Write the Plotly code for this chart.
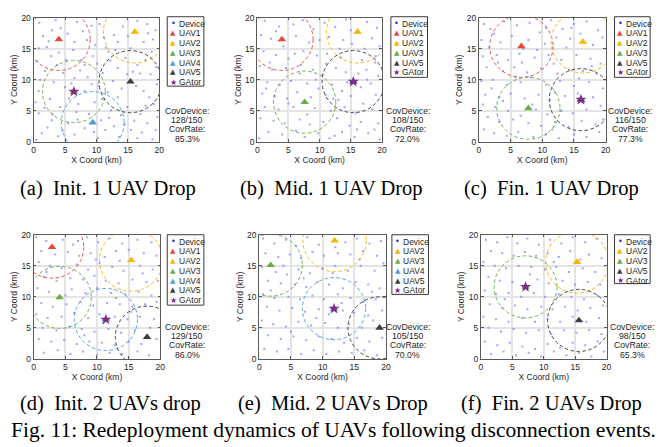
import plotly.graph_objects as go

W, H = 669, 447

# ------------------------------------------------------------------ data
UAV_NAMES = ["UAV1", "UAV2", "UAV3", "UAV4", "UAV5"]
UAV_COLORS = ["#e8453c", "#f7b500", "#6aad45", "#4d9de0", "#3c3c3c"]
UAV_CIRCLE_COLORS = ["rgba(232,69,60,0.9)", "rgba(247,181,0,0.95)", "rgba(106,173,69,0.95)",
                     "rgba(77,157,224,0.95)", "rgba(50,50,50,0.9)"]
GATOR_COLOR = "#7b2d8e"
DEVICE_COLOR = "rgba(90,90,255,0.55)"
COVERAGE_RADIUS = 5.0
TOTAL_DEVICES = 150

SUBCAPTIONS = ["(a)  Init. 1 UAV Drop", "(b)  Mid. 1 UAV Drop", "(c)  Fin. 1 UAV Drop",
               "(d)  Init. 2 UAVs drop", "(e)  Mid. 2 UAVs Drop", "(f)  Fin. 2 UAVs Drop"]
FIG_CAPTION = "Fig. 11: Redeployment dynamics of UAVs following disconnection events."

COV_DEVICE = [128, 108, 116, 129, 105, 98]

# UAV positions per panel (None = UAV dropped)
uav_a_x = [4.0, 16.1, 6.4, 9.4, 15.4];   uav_a_y = [16.5, 17.7, 8.1, 3.1, 9.7]
uav_b_x = [3.95, 16.1, 7.6, None, 15.4]; uav_b_y = [16.5, 17.7, 6.4, None, 9.7]
uav_c_x = [6.7, 16.4, 7.8, None, 16.1];  uav_c_y = [15.4, 16.1, 5.4, None, 6.8]
uav_d_x = [2.9, 15.4, 4.1, 11.4, 17.9];  uav_d_y = [18.0, 15.9, 9.9, 6.35, 3.5]
uav_e_x = [None, 11.9, 1.8, 11.8, 19.0]; uav_e_y = [None, 19.05, 15.1, 8.1, 5.0]
uav_f_x = [None, 15.3, 7.1, None, 15.6]; uav_f_y = [None, 15.6, 11.6, None, 6.2]

gator_x = [6.4, 15.4, 16.1, 11.4, 11.8, 7.1]
gator_y = [8.1, 9.7, 6.8, 6.35, 8.1, 11.6]

dev_a = [(0.9,19.2),(2.9,18.0),(4.3,18.3),(5.4,17.4),(6.9,19.3),(9.2,18.7),(8.5,16.4),(2.4,16.2),(0.8,15.1),(2.1,15.3),
         (6.5,16.1),(6.3,14.8),(12.8,17.2),(13.4,16.1),(11.9,14.5),(16.5,19.5),(18.1,19.0),(19.4,18.0),(17.5,16.1),(15.4,15.1),
         (18.8,14.5),(9.4,13.8),(8.1,12.4),(3.7,12.4),(1.8,11.4),(4.7,11.1),(6.5,10.3),(9.2,9.3),(11.0,11.1),(13.4,11.9),
         (14.9,10.9),(16.5,12.4),(18.6,10.9),(19.6,9.3),(17.5,8.2),(13.4,7.2),(11.8,8.0),(8.1,8.2),(5.0,8.8),(0.8,8.2),
         (2.6,6.9),(4.2,5.6),(7.1,6.1),(9.7,6.4),(12.3,5.1),(14.9,5.6),(17.0,4.5),(19.1,6.1),(0.8,4.6),(2.9,3.5),
         (5.5,3.0),(8.1,2.2),(10.7,3.5),(12.8,2.5),(15.5,1.9),(18.1,3.0),(19.4,1.9),(1.3,1.4),(3.9,0.9),(6.5,1.2),
         (10.2,0.6),(13.6,0.8),(16.5,0.6),(1.5,17.0),(3.5,19.6),(7.8,17.8),(10.5,19.0),(11.2,16.8),(14.2,18.6),(15.0,17.0),
         (19.0,16.5),(0.5,13.0),(2.8,13.8),(5.2,13.2),(7.4,11.5),(10.1,12.6),(12.2,13.1),(14.6,13.5),(17.8,13.2),(19.5,12.0),
         (1.0,10.0),(3.2,9.6),(6.0,9.4),(8.6,10.4),(10.4,9.0),(12.6,9.8),(14.0,8.6),(16.3,9.0),(18.4,7.2),(0.3,6.4),
         (1.7,5.5),(5.6,7.0),(6.8,4.8),(8.8,4.5),(10.9,6.9),(12.0,3.9),(13.9,4.3),(16.0,3.4),(17.8,5.8),(19.7,4.0),
         (2.2,2.3),(4.6,1.8),(7.0,3.6),(9.6,1.6),(11.4,1.9),(14.5,2.8),(17.2,1.5),(18.9,0.4),(0.4,0.3),(3.0,4.4),
         (11.5,15.2),(9.8,15.6),(4.0,14.4),(15.8,11.3),(13.0,14.8),(18.2,17.5),(16.9,11.0),(7.6,13.2)]

dev_b = [(1.2,19.5),(3.5,18.6),(5.8,18.9),(7.3,19.6),(9.0,18.2),(10.8,19.2),(12.5,18.5),(14.2,19.7),(17.6,19.3),(19.2,18.4),
         (0.6,17.2),(2.2,16.6),(6.2,17.0),(8.3,16.0),(11.5,16.9),(13.8,16.4),(15.2,15.8),(18.4,16.7),(19.6,15.4),(1.0,14.6),
         (3.0,14.0),(5.0,13.4),(7.4,14.6),(9.6,13.9),(11.2,14.2),(13.4,13.6),(16.8,13.2),(18.9,12.8),(0.4,12.2),(2.4,11.6),
         (4.6,11.9),(6.8,11.0),(8.9,11.6),(10.4,10.8),(12.6,11.9),(14.2,11.2),(17.5,11.6),(19.4,10.6),(1.6,9.6),(3.6,9.2),
         (5.4,9.8),(8.0,9.4),(9.8,8.6),(12.0,9.2),(13.6,8.2),(16.6,8.8),(18.2,9.4),(0.8,7.8),(2.8,7.4),(4.8,7.0),
         (6.4,8.0),(8.6,7.2),(11.0,7.6),(13.0,6.8),(15.0,7.4),(17.0,6.2),(19.0,7.6),(1.2,5.6),(3.4,5.2),(5.8,5.6),
         (9.2,5.4),(11.8,5.0),(14.0,5.6),(15.8,4.6),(18.4,5.2),(0.5,3.8),(2.6,3.4),(4.4,3.0),(6.8,3.6),(8.4,2.8),
         (10.6,3.2),(12.8,3.8),(14.8,2.6),(16.6,3.2),(19.4,3.0),(1.8,1.6),(4.0,1.2),(6.2,1.8),(7.6,0.8),(9.8,1.4),
         (11.6,0.6),(13.6,1.6),(15.6,0.8),(17.8,1.4),(19.6,0.4),(0.3,0.6),(16.2,11.0),(4.2,15.4),(10.0,16.4),(15.0,18.0),
         (17.2,15.0),(12.2,7.0),(7.0,12.4),(2.0,12.8),(14.4,9.6),(18.8,2.0),(5.0,6.2),(3.0,17.8),(8.0,4.4),(11.0,12.6),
         (16.0,2.0),(13.2,15.0),(6.0,14.2),(19.0,13.8),(9.4,10.0),(1.4,8.6),(17.6,10.0),(12.4,1.0)]

dev_c = [(0.8,19.0),(2.4,17.4),(4.0,19.4),(6.0,18.8),(8.0,19.2),(9.6,17.6),(11.4,19.6),(13.2,18.2),(15.0,19.0),(17.0,19.4),
         (18.8,18.0),(0.4,16.4),(1.6,15.2),(3.4,16.0),(5.2,17.0),(7.8,16.4),(10.4,15.8),(12.2,16.8),(14.4,16.6),(18.0,15.6),
         (19.5,16.8),(0.6,13.8),(2.8,14.0),(4.6,13.2),(6.4,14.2),(8.8,13.6),(11.0,14.0),(13.0,13.2),(15.4,14.0),(17.6,13.4),
         (19.2,12.6),(1.2,12.0),(3.8,11.4),(5.6,12.0),(7.6,11.2),(9.8,11.8),(12.4,11.0),(14.2,11.6),(16.4,11.4),(18.6,11.0),
         (0.4,9.8),(2.2,10.0),(4.4,9.2),(6.6,9.6),(8.2,10.4),(10.6,9.2),(12.8,9.8),(15.0,9.0),(17.4,9.6),(19.6,8.6),
         (1.0,7.6),(3.2,7.2),(5.0,7.8),(7.2,7.0),(9.4,7.6),(11.2,6.8),(13.6,7.4),(15.6,7.8),(18.0,7.2),(0.6,6.0),
         (2.6,5.6),(4.6,5.0),(6.6,4.2),(9.0,5.2),(10.8,4.4),(13.0,5.0),(14.8,4.6),(17.0,5.2),(19.2,5.8),(1.4,4.0),
         (3.2,3.2),(5.4,3.6),(7.8,3.0),(9.8,2.6),(12.0,3.2),(14.2,2.4),(16.2,3.4),(18.4,2.8),(0.8,2.0),(2.4,1.4),
         (4.4,1.0),(6.2,1.6),(8.6,0.8),(10.6,1.2),(12.6,0.6),(15.0,1.2),(17.0,0.8),(19.0,1.6),(1.8,18.2),(10.6,18.4),
         (16.0,17.4),(3.0,12.8),(13.8,15.2),(11.8,12.6),(7.0,15.0),(17.8,12.2),(5.8,10.4),(15.8,10.2),(2.0,8.6),(12.0,8.0),
         (8.4,6.0),(16.6,6.4),(3.8,6.6),(11.6,2.0),(19.6,3.6),(6.8,12.8),(14.6,18.4),(9.2,14.8)]

dev_d = [(0.4,19.6),(2.0,19.0),(4.6,19.2),(6.2,18.4),(8.4,19.6),(10.2,18.8),(12.0,19.4),(14.0,18.6),(16.4,19.2),(18.6,18.8),
         (1.2,17.4),(3.4,16.8),(5.4,17.2),(7.2,16.6),(9.0,17.0),(11.2,16.4),(13.0,17.4),(15.0,17.6),(17.4,17.0),(19.4,16.6),
         (0.8,15.6),(2.6,15.0),(4.4,14.6),(6.8,15.2),(8.6,14.4),(10.4,15.4),(12.4,14.8),(14.2,14.2),(16.8,15.0),(18.8,14.4),
         (1.6,13.2),(3.6,12.6),(5.8,13.0),(7.8,12.8),(9.6,13.4),(11.4,12.6),(13.4,12.2),(15.6,12.8),(17.8,12.4),(19.6,12.6),
         (0.6,11.4),(2.4,10.8),(6.0,11.2),(8.2,10.6),(10.0,11.4),(12.2,10.6),(14.4,10.4),(16.6,10.8),(18.6,10.2),(1.2,9.0),
         (3.0,8.4),(5.2,8.8),(7.4,9.2),(9.4,8.6),(11.6,9.0),(13.6,8.8),(15.6,8.4),(17.6,8.8),(19.4,9.2),(0.4,7.2),
         (2.2,6.6),(4.4,6.8),(6.4,7.4),(8.6,6.6),(10.4,7.2),(12.8,6.8),(14.8,6.4),(16.8,6.8),(19.0,6.4),(1.4,5.0),
         (3.6,4.6),(5.6,5.2),(7.6,4.8),(9.6,4.4),(11.8,4.8),(13.8,4.2),(16.0,4.6),(18.4,5.0),(0.8,3.2),(2.8,2.8),
         (4.8,3.0),(6.8,2.4),(8.8,2.8),(10.8,2.6),(12.8,2.2),(15.0,2.8),(17.0,2.4),(19.4,3.2),(1.6,1.0),(3.8,1.4),
         (5.8,0.8),(7.8,1.2),(10.0,0.6),(12.0,1.0),(14.0,0.8),(16.4,1.2),(18.2,0.6),(7.0,19.0),(13.6,15.8),(9.8,16.0),
         (5.0,10.2),(11.0,5.8),(17.2,13.8),(2.0,14.0),(15.4,7.6),(8.0,3.8),(18.0,3.8),(13.0,9.8)]

dev_e = [(0.6,19.4),(2.4,18.6),(4.2,19.2),(5.8,18.2),(7.6,19.6),(9.4,18.4),(13.6,18.8),(15.4,19.4),(17.4,18.6),(19.2,19.0),
         (1.0,17.0),(3.0,16.4),(4.8,16.8),(6.6,16.2),(8.4,17.2),(10.2,16.6),(12.4,17.0),(14.4,16.8),(16.4,17.4),(18.6,16.6),
         (0.4,14.8),(2.6,14.0),(4.4,13.6),(6.2,14.4),(8.0,13.8),(10.0,14.6),(12.0,15.0),(14.0,14.2),(16.0,15.0),(18.2,14.2),
         (19.6,15.4),(1.4,12.6),(3.4,12.2),(5.6,12.0),(7.4,11.6),(9.2,12.4),(11.0,12.0),(13.2,11.4),(15.2,12.4),(17.2,12.0),
         (19.0,11.4),(0.6,10.4),(2.4,9.8),(4.6,10.0),(6.4,9.6),(8.4,10.2),(10.2,9.6),(12.4,10.4),(14.4,9.8),(16.4,9.2),
         (18.4,9.6),(1.2,8.4),(3.2,7.8),(5.2,8.2),(7.2,7.6),(9.4,8.0),(11.0,7.2),(13.2,7.8),(15.0,7.4),(17.2,7.0),
         (19.4,7.8),(0.4,6.2),(2.2,5.6),(4.2,5.2),(6.2,6.0),(8.2,5.4),(10.4,5.8),(12.4,5.0),(14.2,5.6),(16.2,5.0),
         (18.0,6.2),(1.4,3.8),(3.4,3.2),(5.4,3.6),(7.4,3.0),(9.4,3.6),(11.4,3.2),(13.4,2.6),(15.4,3.4),(17.4,2.8),
         (19.4,3.4),(0.8,1.6),(2.8,1.2),(4.6,1.6),(6.6,0.8),(8.6,1.4),(10.6,0.8),(12.6,1.2),(14.6,1.0),(16.6,1.4),
         (18.6,0.6),(7.0,13.0),(11.6,13.8),(17.8,10.8),(3.8,15.0),(13.0,9.0),(9.0,6.6),(15.8,16.0),(5.0,4.4),(1.8,11.0),
         (12.0,18.0)]

dev_f = [(0.8,19.2),(2.6,18.8),(4.2,19.6),(5.8,18.6),(7.4,19.4),(9.2,18.4),(11.0,19.2),(12.8,18.6),(14.6,19.6),(16.6,18.8),
         (18.4,19.4),(1.6,17.4),(3.4,17.0),(5.2,16.6),(7.0,17.2),(8.8,16.6),(10.6,17.0),(12.4,16.4),(14.2,17.4),(17.2,16.8),
         (19.2,16.2),(0.4,15.6),(2.2,15.0),(4.0,14.6),(6.0,15.0),(8.0,14.8),(10.2,14.4),(12.0,14.8),(14.0,14.0),(16.2,14.6),
         (18.2,14.0),(1.2,13.2),(3.0,12.6),(5.0,12.4),(9.0,12.8),(10.8,12.2),(13.0,12.6),(15.0,12.0),(17.0,12.4),(19.0,12.0),
         (0.6,11.0),(2.4,10.4),(4.4,10.6),(6.4,10.0),(8.4,10.6),(10.2,10.0),(12.4,10.4),(14.4,10.0),(16.4,9.6),(18.6,10.2),
         (1.4,8.8),(3.4,8.2),(5.4,8.6),(7.4,8.0),(9.6,8.4),(11.4,8.0),(13.4,8.4),(15.4,7.8),(17.4,8.2),(19.4,8.6),
         (0.4,6.8),(2.4,6.4),(4.4,6.0),(6.6,6.6),(8.6,6.0),(10.6,6.4),(12.6,6.0),(14.6,6.8),(16.8,6.0),(18.8,6.6),
         (1.2,5.0),(3.2,4.4),(5.2,4.8),(7.2,4.2),(9.2,4.6),(11.2,4.0),(13.2,4.6),(15.2,4.2),(17.2,4.6),(19.2,4.0),
         (0.6,2.8),(2.6,2.2),(4.6,2.6),(6.6,2.0),(8.6,1.6),(10.6,2.4),(12.6,1.8),(14.6,2.6),(16.6,2.2),(18.6,2.8),
         (1.6,0.8),(3.6,1.2),(5.6,0.6),(7.6,1.0),(9.6,0.4),(11.6,1.2),(13.6,0.6),(15.6,1.0),(17.6,0.4),(19.6,1.2),
         (7.8,13.6),(11.6,15.6),(3.8,9.6),(15.8,16.0)]

TICKS = [0, 5, 10, 15, 20]

# ------------------------------------------------------------------ layout (pixels)
PLOT_BOX = [(32, 13, 159, 140), (258, 13, 384, 140), (482, 13, 610, 140),
            (32, 235, 160, 362), (260, 235, 388, 362), (484, 235, 611, 362)]
LEGEND_BOX = [(167, 12, 204, 83), (393, 12, 430, 74), (619, 12, 655, 74),
              (167, 235, 204, 307), (394, 235, 431, 296), (619, 235, 655, 285)]
COV_POS = [(187, 108), (410, 108), (635, 108), (187, 329), (410, 329), (637, 329)]
SUBCAP_POS = [(107, 188), (333, 188), (555, 188), (110, 408), (334, 408), (555, 408)]

SANS = "Liberation Sans, Arial, sans-serif"
SERIF = "Liberation Serif, Times New Roman, serif"
TXT = "#262626"

uav_xs = [uav_a_x, uav_b_x, uav_c_x, uav_d_x, uav_e_x, uav_f_x]
uav_ys = [uav_a_y, uav_b_y, uav_c_y, uav_d_y, uav_e_y, uav_f_y]
devices = [dev_a, dev_b, dev_c, dev_d, dev_e, dev_f]


def px(x):
    return x / W


def py(y):
    return 1 - y / H


fig = go.Figure()
annotations = []
shapes = []

for i in range(6):
    sfx = "" if i == 0 else str(i + 1)
    xa, ya = "x" + sfx, "y" + sfx
    x0, y0, x1, y1 = PLOT_BOX[i]
    axis_common = dict(range=[0, 20], tickvals=TICKS, ticks="inside", ticklen=2.5, tickwidth=1,
                       tickcolor="#555555", showline=True, linecolor="#5a5a5a", linewidth=1.2,
                       mirror="allticks", showgrid=True, gridcolor="#e4e4e4", gridwidth=1.6,
                       zeroline=False, tickfont=dict(family=SANS, size=8.5, color=TXT), fixedrange=True)
    fig.update_layout(**{
        "xaxis" + sfx: dict(axis_common, domain=[px(x0), px(x1)], anchor=ya,
                            title=dict(text="X Coord (km)", font=dict(family=SANS, size=8.5, color=TXT), standoff=1)),
        "yaxis" + sfx: dict(axis_common, domain=[py(y1), py(y0)], anchor=xa,
                            title=dict(text="Y Coord (km)", font=dict(family=SANS, size=8.5, color=TXT), standoff=2)),
    })

    # devices
    dx = [p[0] for p in devices[i]]
    dy = [p[1] for p in devices[i]]
    fig.add_trace(go.Scatter(x=dx, y=dy, mode="markers", xaxis=xa, yaxis=ya, showlegend=False,
                             marker=dict(size=2.0, symbol="square", color=DEVICE_COLOR, line=dict(width=0)),
                             hoverinfo="skip"))

    # coverage circles + UAV markers
    for k in range(5):
        ux, uy = uav_xs[i][k], uav_ys[i][k]
        if ux is None:
            continue
        shapes.append(dict(type="circle", xref=xa, yref=ya,
                           x0=ux - COVERAGE_RADIUS, x1=ux + COVERAGE_RADIUS,
                           y0=uy - COVERAGE_RADIUS, y1=uy + COVERAGE_RADIUS,
                           line=dict(color=UAV_CIRCLE_COLORS[k], width=1, dash="3.5px,2.5px"),
                           layer="between"))
        fig.add_trace(go.Scatter(x=[ux], y=[uy], mode="markers", xaxis=xa, yaxis=ya, showlegend=False,
                                 marker=dict(symbol="triangle-up", size=7.5, color=UAV_COLORS[k],
                                             line=dict(width=0))))
    fig.add_trace(go.Scatter(x=[gator_x[i]], y=[gator_y[i]], mode="markers", xaxis=xa, yaxis=ya,
                             showlegend=False,
                             marker=dict(symbol="star", size=8.5, color=GATOR_COLOR, line=dict(width=0))))

    # legend (drawn as text)
    lx0, ly0, lx1, ly1 = LEGEND_BOX[i]
    shapes.append(dict(type="rect", xref="paper", yref="paper", x0=px(lx0), x1=px(lx1),
                       y0=py(ly1), y1=py(ly0), line=dict(color="#3a3a3a", width=1), fillcolor="white",
                       layer="above"))
    items = [("•", "#2020ff", "Device", 8)]
    for k in range(5):
        if uav_xs[i][k] is not None:
            items.append(("▲", UAV_COLORS[k], UAV_NAMES[k], 7))
    items.append(("★", GATOR_COLOR, "GAtor", 8))
    for j, (sym, col, name, fs) in enumerate(items):
        yy = ly0 + 7 + 10 * j
        annotations.append(dict(x=px(lx0 + 6), y=py(yy), xref="paper", yref="paper", text=sym,
                                showarrow=False, xanchor="center", yanchor="middle",
                                font=dict(family="DejaVu Sans", size=fs, color=col)))
        annotations.append(dict(x=px(lx0 + 9.5), y=py(yy), xref="paper", yref="paper", text=name,
                                showarrow=False, xanchor="left", yanchor="middle",
                                font=dict(family=SANS, size=8.5, color=TXT)))

    # coverage text
    cx, cy = COV_POS[i]
    rate = 100.0 * COV_DEVICE[i] / TOTAL_DEVICES
    lines = ["CovDevice:", f"{COV_DEVICE[i]}/{TOTAL_DEVICES}", "CovRate:", f"{rate:.1f}%"]
    for j, t in enumerate(lines):
        annotations.append(dict(x=px(cx), y=py(cy + 9.6 * j), xref="paper", yref="paper", text=t,
                                showarrow=False, xanchor="center", yanchor="middle",
                                font=dict(family=SANS, size=8.7, color=TXT)))

    # sub-caption
    sx, sy = SUBCAP_POS[i]
    annotations.append(dict(x=px(sx), y=py(sy), xref="paper", yref="paper",
                            text=SUBCAPTIONS[i].replace("  ", "&nbsp; "),
                            showarrow=False, xanchor="center", yanchor="middle",
                            font=dict(family=SERIF, size=20.5, color="black")))

annotations.append(dict(x=px(335), y=py(435), xref="paper", yref="paper", text=FIG_CAPTION,
                        showarrow=False, xanchor="center", yanchor="middle",
                        font=dict(family=SERIF, size=21.5, color="black")))

fig.update_layout(width=W, height=H, margin=dict(l=0, r=0, t=0, b=0),
                  paper_bgcolor="white", plot_bgcolor="white",
                  showlegend=False, annotations=annotations, shapes=shapes)

fig.write_html("out.html", config={"displayModeBar": False})
